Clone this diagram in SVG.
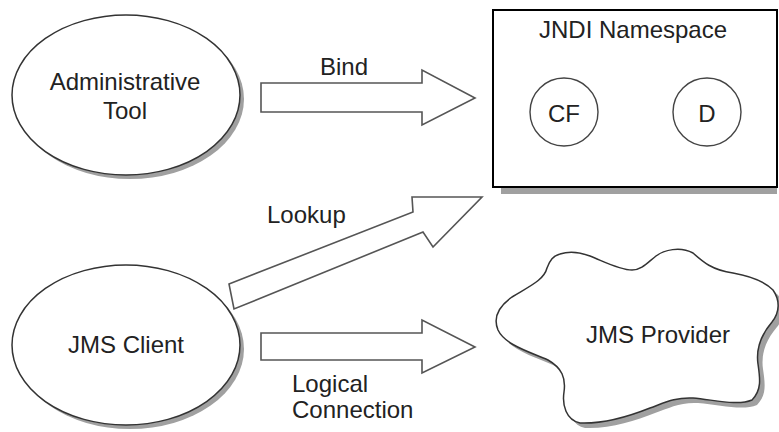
<svg xmlns="http://www.w3.org/2000/svg" width="779" height="432" viewBox="0 0 779 432">
<style>
text{font-family:"Liberation Sans",Arial,sans-serif;font-size:24px;fill:#222}
.c{text-anchor:middle}
.shape{fill:#fff;stroke:#333;stroke-width:1.5}
.shadow{fill:#a0a0a0;stroke:none}
.arrow{fill:#fff;stroke:#555;stroke-width:1.6;stroke-linejoin:miter}
</style>
<rect width="779" height="432" fill="#fff"/>
<g id="admin-tool">
<ellipse class="shadow" cx="130" cy="99" rx="114" ry="80"/>
<ellipse class="shape" cx="126" cy="95" rx="114" ry="80"/>
<text class="c" x="125" y="90">Administrative</text>
<text class="c" x="125" y="119">Tool</text>
</g>
<g id="jndi">
<rect class="shadow" x="501" y="17" width="276" height="177"/>
<rect x="493" y="10" width="284" height="177" fill="#fff" stroke="#000" stroke-width="2"/>
<text class="c" x="633" y="38">JNDI Namespace</text>
<g id="cf">
<circle cx="564" cy="112" r="34" fill="#fff" stroke="#444" stroke-width="1.4"/>
<text class="c" x="564" y="122">CF</text>
</g>
<g id="d">
<circle cx="707" cy="112" r="34" fill="#fff" stroke="#444" stroke-width="1.4"/>
<text class="c" x="707" y="122">D</text>
</g>
</g>
<g id="jms-client">
<ellipse class="shadow" cx="130" cy="349" rx="114" ry="80"/>
<ellipse class="shape" cx="126" cy="345" rx="114" ry="80"/>
<text class="c" x="126" y="353">JMS Client</text>
</g>
<g id="jms-provider">
<path class="shadow" transform="translate(5,5)" d="M560,254 C572,250 582,253 590,256 C605,262 620,270 632,270 C642,270 648,262 656,256 C664,250 680,246 693,253 C703,262 712,270 733,273 C750,276 765,282 773,290 C780,300 780,312 772,322 C760,336 756,350 758,364 C760,378 762,390 752,400 C738,406 715,400 693,398 C675,397 664,403 650,408 C630,416 605,424 580,423 C566,420 562,405 564,392 C566,378 562,368 548,360 C530,352 505,345 498,330 C493,318 498,307 512,297 C530,286 544,280 547,268 C550,260 553,256 560,254 Z"/>
<path class="shape" d="M560,254 C572,250 582,253 590,256 C605,262 620,270 632,270 C642,270 648,262 656,256 C664,250 680,246 693,253 C703,262 712,270 733,273 C750,276 765,282 773,290 C780,300 780,312 772,322 C760,336 756,350 758,364 C760,378 762,390 752,400 C738,406 715,400 693,398 C675,397 664,403 650,408 C630,416 605,424 580,423 C566,420 562,405 564,392 C566,378 562,368 548,360 C530,352 505,345 498,330 C493,318 498,307 512,297 C530,286 544,280 547,268 C550,260 553,256 560,254 Z"/>
<text class="c" x="658" y="343">JMS Provider</text>
</g>
<g id="connectors">
<g id="bind">
<polygon class="arrow" points="261,83 422,83 422,70 475,98 422,125 422,112 261,112"/>
<text class="c" x="344" y="75">Bind</text>
</g>
<g id="lookup">
<polygon class="arrow" points="229,284 413,212 412,197 482,197 433,247 423,232 234,309"/>
<text x="267" y="223">Lookup</text>
</g>
<g id="logical">
<polygon class="arrow" points="261,333 422,333 422,320 475,347 422,373 422,360 261,360"/>
<text x="292" y="392">Logical</text>
<text x="292" y="418">Connection</text>
</g>
</g>
</svg>
